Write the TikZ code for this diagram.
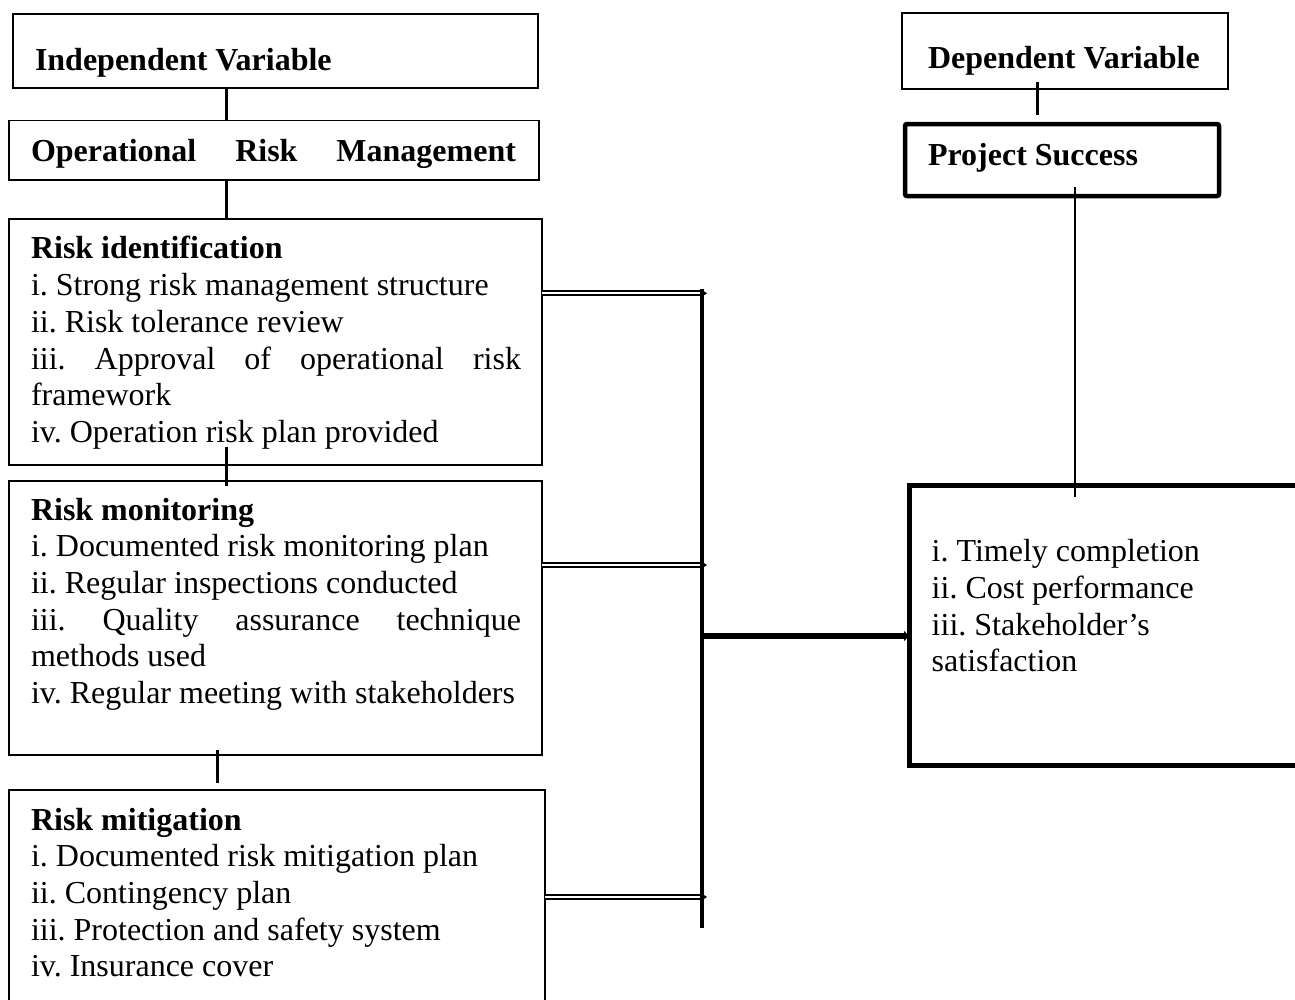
\documentclass[tikz,border=0pt]{standalone}
\usepackage{fontspec}
\setmainfont{Liberation Serif}
\usetikzlibrary{arrows.meta,calc}
\frenchspacing
\begin{document}
\begin{tikzpicture}[x=1pt,y=-1pt,
  box/.style={draw, line width=1.8pt, inner sep=0pt, outer sep=0pt, anchor=north west},
  heavybox/.style={draw, line width=5pt, inner sep=0pt, outer sep=0pt, anchor=north west},
  txt/.style={inner sep=0pt, outer sep=0pt, anchor=north west, align=left, font=\fontsize{32}{36.7}\selectfont},
  oneline/.style={inner sep=0pt, outer sep=0pt, anchor=base west, font=\fontsize{32}{36.7}\selectfont},
  link/.style={line width=3pt},
  thinlink/.style={line width=2pt},
  buslink/.style={line width=3.5pt},
  dbl/.style={double, double distance=1.8pt, line width=2.2pt},
  tipmark/.style={fill=black},
  bigarrow/.style={line width=6pt, -{Triangle[length=5pt,width=10pt]}}]
\useasboundingbox (0,0) rectangle (1295,999);

% left column boxes
\node[box, minimum width=525, minimum height=74] (iv) at (13,14) {};
\node[oneline] (ivt) at (35,70) {\textbf{Independent Variable}};

\node[box, minimum width=530, minimum height=59.5] (orm) at (9,120.5) {};
\node[oneline] (ormt) at (31,161) {\makebox[485pt][s]{\bfseries Operational Risk Management}};

\node[box, minimum width=533, minimum height=246] (rid) at (9,219) {};
\node[txt] (ridt) at (31,233.3) {\strut\textbf{Risk identification}\\
  i. Strong risk management structure\\
  ii. Risk tolerance review\\
  \makebox[490pt][s]{iii. Approval of operational risk}\\
  framework\\
  iv. Operation risk plan provided};

\node[box, minimum width=533, minimum height=274] (rmon) at (9,481) {};
\node[txt] (rmont) at (31,494.3) {\strut\textbf{Risk monitoring}\\
  i. Documented risk monitoring plan\\
  ii. Regular inspections conducted\\
  \makebox[490pt][s]{iii. Quality assurance technique}\\
  methods used\\
  iv. Regular meeting with stakeholders};

\node[box, minimum width=536, minimum height=230] (rmit) at (9,790) {};
\node[txt] (rmitt) at (31,804.3) {\strut\textbf{Risk mitigation}\\
  i. Documented risk mitigation plan\\
  ii. Contingency plan\\
  iii. Protection and safety system\\
  iv. Insurance cover};

% right column boxes
\node[box, minimum width=326, minimum height=76] (dv) at (902,13) {};
\node[oneline] (dvt) at (928,68.3) {\textbf{Dependent Variable}};

\node[box, line width=4.5pt, rounded corners=2pt, minimum width=314, minimum height=72] (ps) at (905,124) {};
\node[oneline] (pst) at (928,165) {\textbf{Project Success}};

\node[heavybox, minimum width=420, minimum height=280] (out) at (909,485) {};
\node[txt] (outt) at (931.7,536) {\strut i. Timely completion\\
  ii. Cost performance\\
  iii. Stakeholder’s\\
  satisfaction};

% helper coordinates
\coordinate (xa) at (226,0);
\coordinate (xb) at (217,0);
\coordinate (xc) at (1037,0);
\coordinate (xd) at (1075,0);
\coordinate (bus) at (702,0);
\coordinate (ya) at (0,293.3);
\coordinate (yb) at (0,565);
\coordinate (yc) at (0,897);
\coordinate (yd) at (0,636);
\coordinate (btop) at (702,289);
\coordinate (bbot) at (702,928);

% vertical links
\draw[link] (xa |- iv.south) -- (xa |- orm.north);
\draw[link] (xa |- orm.south) -- (xa |- rid.north);
\draw[link] ($(xa |- rid.south)+(0,-18)$) -- ($(xa |- rmon.north)+(0,5)$);
\draw[link] ($(xb |- rmon.south)+(0,-5)$) -- ($(xb |- rmit.north)+(0,-7)$);
\draw[link] ($(xc |- dv.south)+(0,-7)$) -- ($(xc |- ps.north)+(0,-9)$);
\draw[thinlink] ($(xd |- ps.south)+(0,-9)$) -- ($(xd |- out.north)+(0,12)$);

% bus and arrows
\draw[buslink] (btop) -- (bbot);
\foreach \yy/\src in {ya/rid, yb/rmon, yc/rmit}{
  \draw[dbl] (\src.east |- \yy) -- ($(bus |- \yy)+(-1,0)$);
  \fill[tipmark] ($(bus |- \yy)+(-2,-4.5)$) -- ($(bus |- \yy)+(5,0)$) -- ($(bus |- \yy)+(-2,4.5)$) -- cycle;
}
\draw[bigarrow] (bus |- yd) -- (out.west |- yd);
\end{tikzpicture}
\end{document}
